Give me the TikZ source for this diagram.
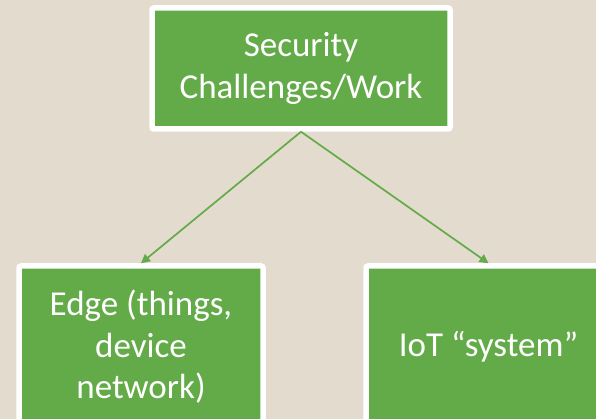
\documentclass[tikz,border=0pt]{standalone}
\usepackage{fontspec}
\setmainfont{Carlito}
\usetikzlibrary{arrows.meta}
\definecolor{bg}{RGB}{227,220,206}
\definecolor{boxgreen}{RGB}{99,170,72}
\tikzset{
  greenbox/.style={draw=white, line width=5.5pt, fill=boxgreen, rounded corners=2pt,
    text=white, align=center, inner sep=0pt,
    font=\fontsize{35}{41.5}\selectfont},
  link/.style={draw=boxgreen, line width=1.7pt, -{Triangle[length=9pt,width=9pt]}}
}
\begin{document}
\begin{tikzpicture}[x=1pt,y=1pt]
\useasboundingbox (0,0) rectangle (596,-419);
\fill[bg] (0,0) rectangle (596,-419);
\clip (0,0) rectangle (596,-419);
\node[greenbox, minimum width=298pt, minimum height=121pt] (top) at (301,-68.5) {Security\\Challenges/Work};
\node[greenbox, minimum width=244pt, minimum height=162pt] (edge) at (141,-347) {Edge (things,\\device\\network)};
\node[greenbox, minimum width=245pt, minimum height=162pt] (iot) at (488.5,-347) {IoT “system”};
\draw[link] (top.south) -- (edge.north);
\draw[link] (top.south) -- (iot.north);
\end{tikzpicture}
\end{document}
